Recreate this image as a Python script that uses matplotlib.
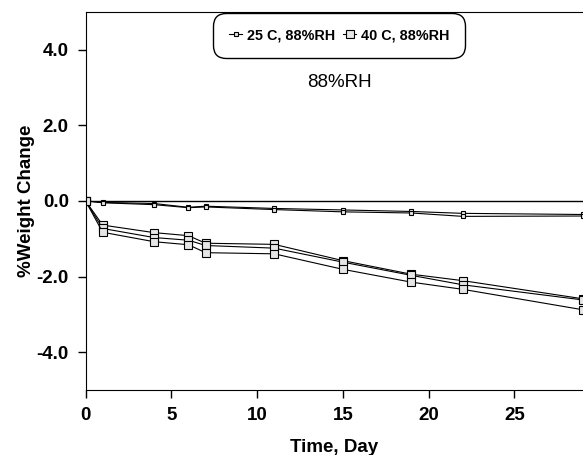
import matplotlib
matplotlib.use("Agg")
from matplotlib import pyplot as plt

# storage days
days = [0, 1, 4, 6, 7, 11, 15, 19, 22, 29]

# % weight change, 25 C / 88%RH replicates
wt25_a = [0, -0.04, -0.07, -0.17, -0.14, -0.20, -0.24, -0.28, -0.33, -0.36]
wt25_b = [0, -0.05, -0.10, -0.18, -0.16, -0.23, -0.29, -0.32, -0.41, -0.40]

# % weight change, 40 C / 88%RH replicates
wt40_a = [0, -0.64, -0.84, -0.92, -1.12, -1.15, -1.58, -1.94, -2.11, -2.59]
wt40_b = [0, -0.73, -0.97, -1.04, -1.18, -1.25, -1.62, -1.97, -2.22, -2.62]
wt40_c = [0, -0.83, -1.08, -1.16, -1.37, -1.40, -1.81, -2.15, -2.34, -2.88]

xticks = [0, 5, 10, 15, 20, 25]
yticks = [-4.0, -2.0, 0.0, 2.0, 4.0]

plt.rcParams['font.family'] = ['Liberation Sans', 'DejaVu Sans']

fig = plt.figure(figsize=(5.83, 4.55), dpi=100)
ax = fig.add_axes([0.1467, 0.143, 0.8533, 0.831])

ax.axhline(0, color='black', lw=1.0, zorder=1)

small = dict(color='black', lw=0.8, marker='s', ms=3.5, mfc='#e6e6e6', mec='black', mew=0.8)
big = dict(color='black', lw=0.8, marker='s', ms=6, mfc='#e6e6e6', mec='black', mew=0.8)

ax.plot(days, wt25_a, label='25 C, 88%RH', **small)
ax.plot(days, wt25_b, **small)
ax.plot(days, wt40_a, label='40 C, 88%RH', **big)
ax.plot(days, wt40_b, **big)
ax.plot(days, wt40_c, **big)

ax.set_xlim(0, 29)
ax.set_ylim(-5, 5)
ax.set_xticks(xticks)
ax.set_yticks(yticks)
ax.set_xticklabels([str(t) for t in xticks], fontsize=13.5, fontweight='bold')
ax.set_yticklabels(['%.1f' % t for t in yticks], fontsize=13.5, fontweight='bold')
ax.tick_params(direction='out', length=6, width=1, pad=6)
ax.spines['right'].set_visible(False)

ax.set_xlabel('Time, Day', fontsize=13.5, fontweight='bold', labelpad=11)
ax.set_ylabel('%Weight Change', fontsize=13.5, fontweight='bold', labelpad=1)

leg = ax.legend(loc='upper center', bbox_to_anchor=(0.51, 1.0), borderaxespad=0.05,
                ncol=2, prop={'weight': 'bold', 'size': 10.4}, handlelength=0.9,
                handletextpad=0.3, columnspacing=0.6, borderpad=1.1, fancybox=True,
                framealpha=1, edgecolor='black')
leg.get_frame().set_linewidth(1.0)
leg.get_frame().set_boxstyle('round', pad=0.0, rounding_size=0.9)

ax.text(0.51, 0.812, '88%RH', transform=ax.transAxes, ha='center', va='center', fontsize=13.5)

fig.savefig('out.png', dpi=100)
